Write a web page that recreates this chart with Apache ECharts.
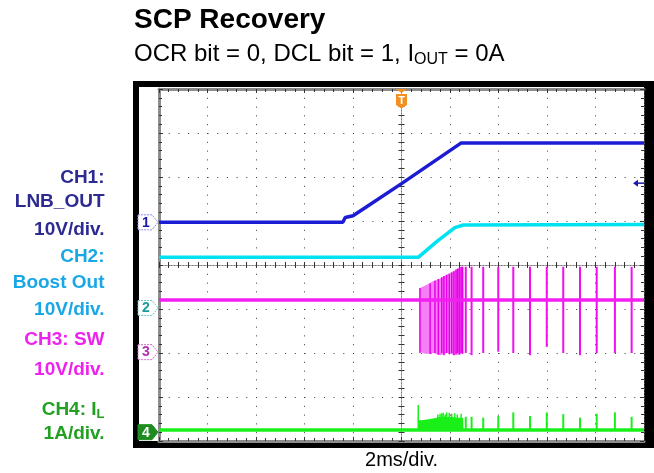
<!DOCTYPE html>
<html>
<head>
<meta charset="utf-8">
<script src="https://cdn.jsdelivr.net/npm/echarts@6/dist/echarts.min.js"></script>
<style>
  html, body { margin: 0; padding: 0; background: #fff; }
  #scope { width: 654px; height: 473px; }
</style>
</head>
<body>
<div id="scope"></div>
<script>
// Horizontal: time in ms relative to the trigger (2 ms/div, 10 div).
// Vertical: screen divisions, 0 = centre graticule line (8 div).
const timeRange = [-10, 10];
const divRange = [-4, 4];

// CH1: LNB_OUT
const ch1Time = [-10, -2.42, -2.32, -2.0, -1.5, 0.0, 2.45, 10];
const ch1Div  = [0.97, 0.97, 1.08, 1.12, 1.30, 1.85, 2.77, 2.77];

// CH2: Boost Out
const ch2Time = [-10, 0.69, 1.45, 2.2, 2.55, 10];
const ch2Div  = [0.175, 0.175, 0.53, 0.85, 0.91, 0.92];

// CH3: SW node – idle level, soft-start burst envelope, then single pulses
const ch3Time = [-10, 10];
const ch3Div  = [-0.795, -0.795];
const ch3BurstTime = [0.74, 0.76, 1.0, 1.3, 1.6, 1.9, 2.2, 2.48, 2.54, 2.56];
const ch3BurstTop  = [-0.8, -0.52, -0.46, -0.37, -0.30, -0.21, -0.12, -0.04, -0.04, -0.8];
const ch3BurstLow  = [-0.8, -1.98, -2.02, -2.0, -2.05, -2.0, -2.05, -2.02, -2.0, -0.8];
const ch3EdgeTime = [0.76, 1.18, 1.38, 1.52, 1.66, 1.75, 1.86, 1.97, 2.07, 2.16, 2.25, 2.32, 2.39, 2.46, 2.52];
const ch3EdgeTop  = [-0.52, -0.42, -0.36, -0.32, -0.28, -0.25, -0.22, -0.2, -0.17, -0.14, -0.1, -0.08, -0.06, -0.04, -0.04];
const ch3EdgeLow  = [-2.0, -2.02, -2.0, -2.04, -2.0, -2.05, -2.0, -2.03, -2.0, -2.05, -2.02, -2.0, -2.04, -2.0, -2.02];
const pulseTime   = [2.65, 2.89, 3.37, 3.99, 4.61, 5.30, 5.99, 6.67, 7.36, 8.05, 8.80, 9.49];
const ch3PulseTop = [-0.04, -0.04, -0.04, -0.04, -0.04, -0.04, -0.04, -0.04, -0.04, -0.04, -0.04, -0.04];
const ch3PulseLow = [-2.0, -2.05, -2.0, -1.97, -2.0, -2.05, -1.86, -2.0, -2.05, -2.0, -2.0, -2.0];

// CH4: inductor current
const ch4Time = [-10, 10];
const ch4Div  = [-3.75, -3.75];
const ch4BurstTime = [0.68, 0.70, 0.83, 1.18, 1.45, 1.6, 2.0, 2.3, 2.54, 2.56];
const ch4BurstTop  = [-3.75, -3.52, -3.53, -3.5, -3.47, -3.45, -3.45, -3.47, -3.47, -3.75];
const ch4EdgeTime  = [0.69, 1.5, 1.59, 1.66, 1.72, 1.8, 1.86, 1.97, 2.07, 2.2, 2.3, 2.46];
const ch4EdgeTop   = [-3.18, -3.4, -3.38, -3.37, -3.36, -3.4, -3.35, -3.36, -3.38, -3.37, -3.4, -3.38];
const ch4PulseTop  = [-3.45, -3.45, -3.47, -3.43, -3.35, -3.43, -3.35, -3.39, -3.47, -3.38, -3.35, -3.45];

// Ground reference markers (left edge) and trigger position / level
const markerLabel = ['1', '2', '3', '4'];
const markerDiv   = [0.97, -0.977, -1.98, -3.8];
const triggerTime = 0;
const triggerLevel = 1.86;

const C1 = '#1c1cd4', C2 = '#00e2f0', C3 = '#f21ef2', C4 = '#19f019';
const FONT = '"Liberation Sans", Arial, sans-serif';

const pairs = (xs, ys) => xs.map((x, i) => [x, ys[i]]);

function bandRender(times, tops, lows, fill) {
  return function (params, api) {
    if (params.dataIndex !== 0) return null;
    const pts = [];
    for (let i = 0; i < times.length; i++) pts.push(api.coord([times[i], tops[i]]));
    for (let i = times.length - 1; i >= 0; i--) pts.push(api.coord([times[i], lows[i]]));
    return { type: 'polygon', shape: { points: pts }, style: { fill: fill } };
  };
}

function segRender(color, width) {
  return function (params, api) {
    const a = api.coord([api.value(0), api.value(1)]);
    const b = api.coord([api.value(0), api.value(2)]);
    return { type: 'line', shape: { x1: a[0], y1: a[1], x2: b[0], y2: b[1] },
             style: { stroke: color, lineWidth: width } };
  };
}

function trace(data, color, width) {
  return { type: 'line', data: data, symbol: 'none', silent: true, animation: false,
           lineStyle: { color: color, width: width }, z: 3 };
}

// graticule axes: border axes with ticks, plus centre cross axes
const tickStyle = { color: '#333', width: 1 };
function xAxisCfg(pos, opts) {
  return Object.assign({
    type: 'value', min: timeRange[0], max: timeRange[1], interval: 2, position: pos,
    axisLabel: { show: false },
    axisLine: { onZero: false, lineStyle: { color: '#8c8c8c', width: 3 } },
    axisTick: { show: true, inside: true, length: 4, lineStyle: tickStyle },
    minorTick: { show: true, splitNumber: 5, length: 3, lineStyle: tickStyle },
    splitLine: { show: false }
  }, opts);
}
function yAxisCfg(pos, opts) {
  return Object.assign({
    type: 'value', min: divRange[0], max: divRange[1], interval: 1, position: pos,
    axisLabel: { show: false },
    axisLine: { onZero: false, lineStyle: { color: '#8c8c8c', width: 3 } },
    axisTick: { show: true, inside: true, length: 4, lineStyle: tickStyle },
    minorTick: { show: true, splitNumber: 5, length: 3, lineStyle: tickStyle },
    splitLine: { show: false }
  }, opts);
}
const centreLine = { onZero: true, onZeroAxisIndex: 0, lineStyle: { color: '#777', width: 1, type: [1, 2] } };

const option = {
  backgroundColor: '#fff',
  animation: false,
  grid: { left: 159, top: 89, width: 485, height: 352, outerBoundsMode: 'none', show: false },
  xAxis: [
    xAxisCfg('bottom', { splitLine: { show: true, lineStyle: { color: '#3a3a3a', width: 1, type: [1, 7.8] } } }),
    xAxisCfg('top'),
    xAxisCfg('bottom', { axisLine: centreLine, axisTick: { show: true, inside: true, length: 3, lineStyle: tickStyle } }),
    xAxisCfg('bottom', { axisLine: centreLine, axisTick: { show: true, inside: false, length: 3, lineStyle: tickStyle } })
  ],
  yAxis: [
    yAxisCfg('left', { splitLine: { show: true, lineStyle: { color: '#3a3a3a', width: 1, type: [1, 8.7] } } }),
    yAxisCfg('right', { axisLine: { onZero: false, lineStyle: { color: '#555', width: 1, type: [1, 2] } } }),
    yAxisCfg('left', { axisLine: centreLine, axisTick: { show: true, inside: true, length: 3, lineStyle: tickStyle } }),
    yAxisCfg('left', { axisLine: centreLine, axisTick: { show: true, inside: false, length: 3, lineStyle: tickStyle } })
  ],
  graphic: [
    { type: 'rect', z: -10, silent: true, shape: { x: 133, y: 81, width: 521, height: 367 }, style: { fill: '#000' } },
    { type: 'rect', z: -9, silent: true, shape: { x: 139, y: 87, width: 505, height: 354 }, style: { fill: '#fff' } },
    { type: 'text', x: 134, y: 20, style: { text: 'SCP Recovery', font: 'bold 28px ' + FONT, fill: '#000', verticalAlign: 'middle' } },
    { type: 'text', x: 134, y: 54, style: {
        text: '{m|OCR bit = 0, DCL bit = 1, I}{s|OUT}{m| = 0A}', fill: '#000', verticalAlign: 'middle',
        rich: { m: { fontSize: 24, fontFamily: FONT, lineHeight: 28 },
                s: { fontSize: 16, fontFamily: FONT, lineHeight: 16, verticalAlign: 'bottom' } } } },
    { type: 'text', x: 401.5, y: 460, style: { text: '2ms/div.', font: '20px ' + FONT, fill: '#000', align: 'center', verticalAlign: 'middle' } },
    ...[
      ['CH1:', 178, '#2d2b92'], ['LNB_OUT', 202, '#2d2b92'], ['10V/div.', 230, '#2d2b92'],
      ['CH2:', 257, '#1aa7e6'], ['Boost Out', 283, '#1aa7e6'], ['10V/div.', 310, '#1aa7e6'],
      ['CH3: SW', 340, '#ee22ee'], ['10V/div.', 370, '#ee22ee'],
      ['{m|CH4: I}{s|L}', 410, '#22a022'], ['1A/div.', 434, '#22a022']
    ].map(([t, y, c]) => ({
      type: 'text', x: 104.5, y: y,
      style: { text: t, fill: c, align: 'right', verticalAlign: 'middle', font: 'bold 19px ' + FONT,
               rich: { m: { fontSize: 19, fontWeight: 'bold', fontFamily: FONT, lineHeight: 22 },
                       s: { fontSize: 13, fontWeight: 'bold', fontFamily: FONT, lineHeight: 13, verticalAlign: 'bottom' } } }
    }))
  ],
  series: [
    trace(pairs(ch4Time, ch4Div), C4, 3.5),
    { type: 'custom', silent: true, animation: false, z: 3, data: pairs(ch4BurstTime, ch4BurstTop),
      renderItem: bandRender(ch4BurstTime, ch4BurstTop, ch4BurstTime.map(() => ch4Div[0]), C4) },
    { type: 'custom', silent: true, animation: false, z: 3, encode: { x: 0, y: [1, 2] },
      data: ch4EdgeTime.map((t, i) => [t, ch4Div[0], ch4EdgeTop[i]]), renderItem: segRender(C4, 1.5) },
    { type: 'custom', silent: true, animation: false, z: 3, encode: { x: 0, y: [1, 2] },
      data: pulseTime.map((t, i) => [t, ch4Div[0], ch4PulseTop[i]]), renderItem: segRender(C4, 2) },

    trace(pairs(ch3Time, ch3Div), C3, 3.5),
    { type: 'custom', silent: true, animation: false, z: 3, data: pairs(ch3BurstTime, ch3BurstTop),
      renderItem: bandRender(ch3BurstTime, ch3BurstTop, ch3BurstLow, '#f580f5') },
    { type: 'custom', silent: true, animation: false, z: 3, encode: { x: 0, y: [1, 2] },
      data: ch3EdgeTime.map((t, i) => [t, ch3EdgeTop[i], ch3EdgeLow[i]]), renderItem: segRender('#e800e8', 1.5) },
    { type: 'custom', silent: true, animation: false, z: 3, encode: { x: 0, y: [1, 2] },
      data: pulseTime.map((t, i) => [t, ch3PulseTop[i], ch3PulseLow[i]]), renderItem: segRender('#ee10ee', 2) },

    trace(pairs(ch2Time, ch2Div), C2, 3.5),
    trace(pairs(ch1Time, ch1Div), C1, 3.5),

    // channel ground markers at the left edge of the graticule
    { type: 'custom', silent: true, animation: false, z: 5, clip: false,
      data: markerDiv.map((d, i) => [timeRange[0], d, i]),
      renderItem: function (params, api) {
        const i = params.dataIndex;
        const p = api.coord([api.value(0), api.value(1)]);
        const x = p[0] - 1, y = p[1];
        const stroke = ['#8c8cf0', '#6cc8c8', '#d070d0', '#1e8c1e'][i];
        const txt = ['#1a1aa8', '#1a9a9a', '#b030b0', '#fff'][i];
        const filled = i === 3;
        return { type: 'group', children: [
          { type: 'polygon', shape: { points: [[x - 20, y - 7.5], [x - 6, y - 7.5], [x, y], [x - 6, y + 7.5], [x - 20, y + 7.5]] },
            style: { fill: filled ? '#1e8c1e' : '#fff', stroke: stroke, lineWidth: 1, lineDash: filled ? null : [2, 1] } },
          { type: 'text', x: x - 12, y: y + 0.5,
            style: { text: markerLabel[i], fill: txt, font: 'bold 14px ' + FONT, align: 'center', verticalAlign: 'middle' } }
        ] };
      } },

    // trigger position (top) and trigger level (right edge)
    { type: 'custom', silent: true, animation: false, z: 5, clip: false,
      data: [[triggerTime, divRange[1]]],
      renderItem: function (params, api) {
        const p = api.coord([api.value(0), api.value(1)]);
        const x = p[0], y = p[1];
        return { type: 'group', children: [
          { type: 'polygon', shape: { points: [[x - 5.5, y], [x + 5.5, y], [x, y + 4]] }, style: { fill: '#f39022' } },
          { type: 'polygon', shape: { points: [[x - 5.5, y + 5], [x + 5.5, y + 5], [x + 5.5, y + 16], [x, y + 19.5], [x - 5.5, y + 16]] },
            style: { fill: '#f39022' } },
          { type: 'text', x: x, y: y + 12, style: { text: 'T', fill: '#fff', font: 'bold 11px ' + FONT, align: 'center', verticalAlign: 'middle' } }
        ] };
      } },
    { type: 'custom', silent: true, animation: false, z: 5, clip: false,
      data: [[timeRange[1], triggerLevel]],
      renderItem: function (params, api) {
        const p = api.coord([api.value(0), api.value(1)]);
        const x = p[0], y = p[1];
        return { type: 'group', children: [
          { type: 'polygon', shape: { points: [[x - 11, y], [x - 6, y - 3.5], [x - 6, y + 3.5]] }, style: { fill: '#1a1aa8' } },
          { type: 'line', shape: { x1: x - 6, y1: y, x2: x, y2: y }, style: { stroke: '#1a1aa8', lineWidth: 1.5 } }
        ] };
      } }
  ]
};

const chart = echarts.init(document.getElementById('scope'), null, { renderer: 'canvas' });
chart.setOption(option);
</script>
</body>
</html>
